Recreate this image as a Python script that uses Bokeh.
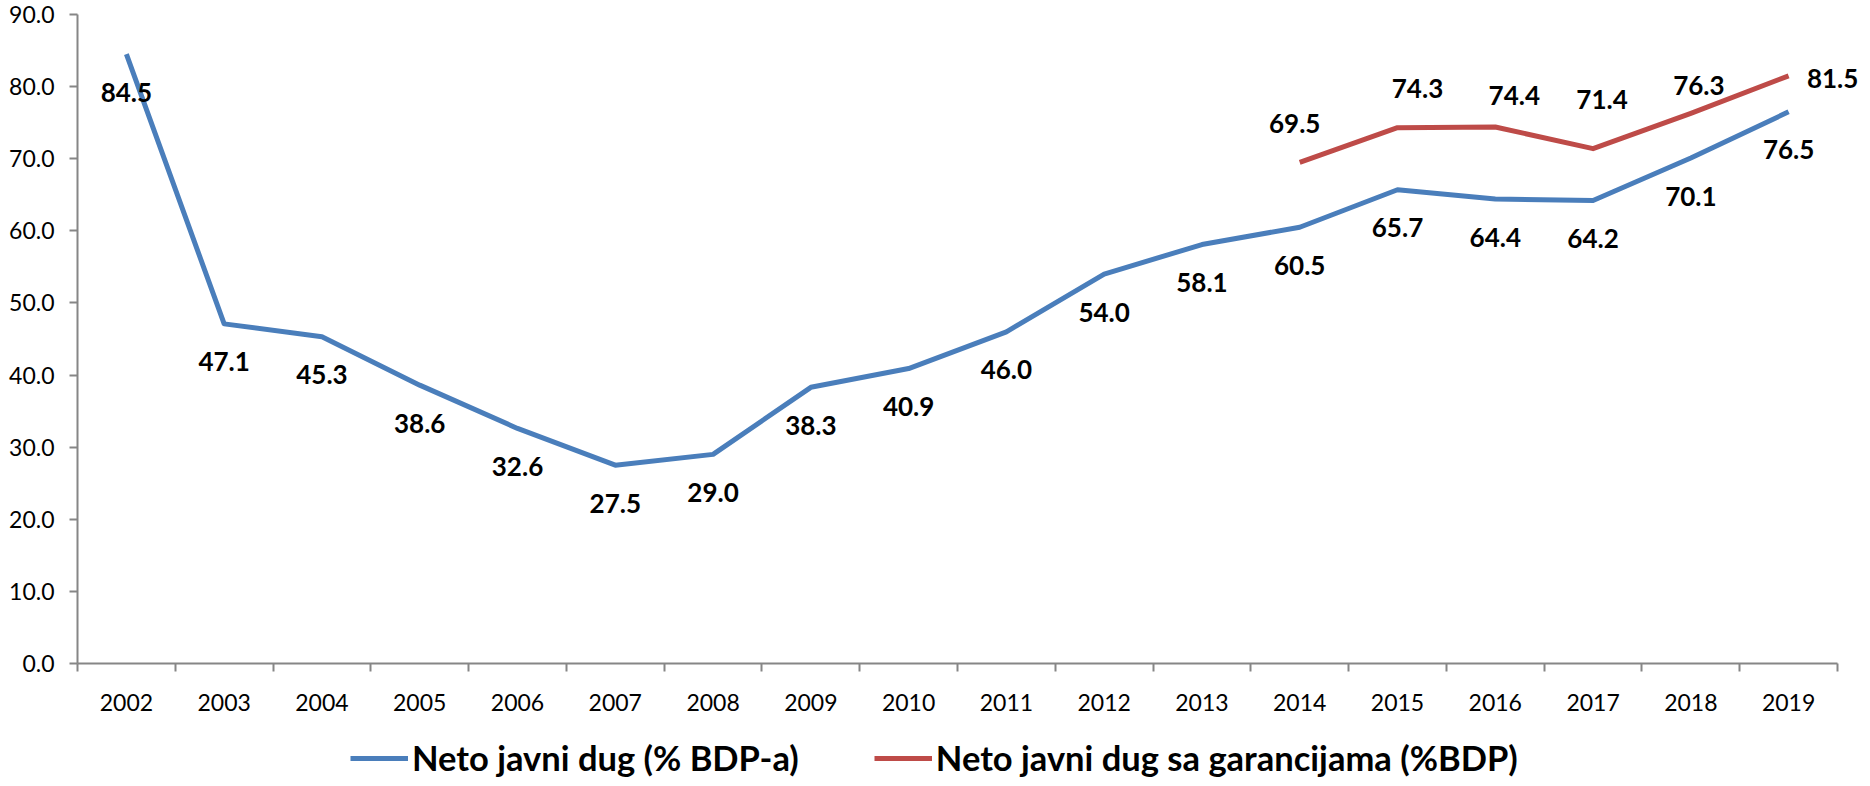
from bokeh.plotting import figure
from bokeh.layouts import column
from bokeh.models import ColumnDataSource, FixedTicker, Legend, LegendItem, Range1d
from bokeh.core.properties import value
from bokeh.embed import file_html
from bokeh.resources import INLINE

years = ["2002", "2003", "2004", "2005", "2006", "2007", "2008", "2009", "2010",
         "2011", "2012", "2013", "2014", "2015", "2016", "2017", "2018", "2019"]
neto_dug = [84.5, 47.1, 45.3, 38.6, 32.6, 27.5, 29.0, 38.3, 40.9,
            46.0, 54.0, 58.1, 60.5, 65.7, 64.4, 64.2, 70.1, 76.5]
garant_years = ["2014", "2015", "2016", "2017", "2018", "2019"]
neto_garant = [69.5, 74.3, 74.4, 71.4, 76.3, 81.5]
y_ticks = [0, 10, 20, 30, 40, 50, 60, 70, 80, 90]

# label placement (screen pixel offsets, down = positive), as placed in the original
blue_dx = [0] * len(years)
blue_dy = [38] * len(years)
red_dx = [-5, 20, 19, 9, 8, 44]
red_dy = [-39, -39, -31, -49, -28, 3]

BLUE = "#4A7EBB"
RED = "#BE4B48"
FONT = "Lato"

n = len(years)
xpos = {y: i + 0.5 for i, y in enumerate(years)}

src_b = ColumnDataSource(dict(
    x=[xpos[y] for y in years], y=neto_dug,
    t=["%.1f" % v for v in neto_dug], dx=blue_dx, dy=blue_dy))
src_r = ColumnDataSource(dict(
    x=[xpos[y] for y in garant_years], y=neto_garant,
    t=["%.1f" % v for v in neto_garant], dx=red_dx, dy=red_dy))

FIG_W = 1860
LEFT = 77
AXIS_PX = 1760  # pixel length of the category axis
frame_w = FIG_W - LEFT
x_end = n * frame_w / AXIS_PX  # extra room on the right for the last label

p = figure(width=FIG_W, height=715, output_backend="svg", toolbar_location=None,
           x_range=Range1d(0, x_end), y_range=Range1d(0, 90),
           min_border_left=LEFT, min_border_right=0, min_border_top=14,
           min_border_bottom=52)
p.outline_line_color = None
p.xgrid.visible = False
p.ygrid.visible = False

rb = p.line("x", "y", source=src_b, line_color=BLUE, line_width=5, line_join="round")
rr = p.line("x", "y", source=src_r, line_color=RED, line_width=5, line_join="round")

for src in (src_b, src_r):
    p.text("x", "y", text="t", source=src, x_offset="dx", y_offset="dy",
           text_align="center", text_baseline="middle",
           text_font=value(FONT), text_font_style="bold", text_font_size="26px",
           text_color="black")

# axes
xa = p.xaxis[0]
xa.bounds = (0, n)
xa.ticker = FixedTicker(ticks=[i + 0.5 for i in range(n)],
                        minor_ticks=list(range(n + 1)))
xa.major_label_overrides = {i + 0.5: y for i, y in enumerate(years)}
xa.major_tick_out = 0
xa.major_tick_in = 0
xa.minor_tick_out = 8
xa.minor_tick_in = 0
xa.minor_tick_line_color = "#868686"
xa.minor_tick_line_width = 2
xa.axis_line_color = "#868686"
xa.axis_line_width = 2
xa.major_label_text_font = FONT
xa.major_label_text_font_size = "23px"
xa.major_label_text_color = "black"
xa.major_label_standoff = 22

ya = p.yaxis[0]
ya.ticker = FixedTicker(ticks=y_ticks, minor_ticks=[])
ya.major_label_overrides = {v: "%.1f" % v for v in y_ticks}
ya.major_tick_out = 8
ya.major_tick_in = 0
ya.major_tick_line_color = "#868686"
ya.major_tick_line_width = 2
ya.axis_line_color = "#868686"
ya.axis_line_width = 2
ya.major_label_text_font = FONT
ya.major_label_text_font_size = "23px"
ya.major_label_text_color = "black"
ya.major_label_standoff = 15

# legend strip (proxy lines lie outside the strip's visible range)
lg = figure(width=1854, height=63, output_backend="svg", toolbar_location=None,
            x_range=Range1d(0, 1), y_range=Range1d(0, 1),
            x_axis_location=None, y_axis_location=None, min_border=0)
lg.outline_line_color = None
lg.xgrid.visible = False
lg.ygrid.visible = False
lb = lg.line(x=[0, 1], y=[-5, -5], line_color=BLUE, line_width=5)
lr = lg.line(x=[0, 1], y=[-5, -5], line_color=RED, line_width=5)
legend = Legend(items=[LegendItem(label="Neto javni dug (% BDP-a)", renderers=[lb]),
                       LegendItem(label="Neto javni dug sa garancijama (%BDP)", renderers=[lr])],
                orientation="horizontal", location=(273, 0),
                glyph_width=58, glyph_height=30, label_standoff=4, spacing=75,
                padding=0, margin=0, border_line_color=None, background_fill_alpha=0,
                label_text_font=FONT, label_text_font_style="bold",
                label_text_font_size="34.5px", label_text_color="black")
lg.add_layout(legend, "center")

open("out.html", "w").write(file_html(column(p, lg, spacing=0), INLINE))
